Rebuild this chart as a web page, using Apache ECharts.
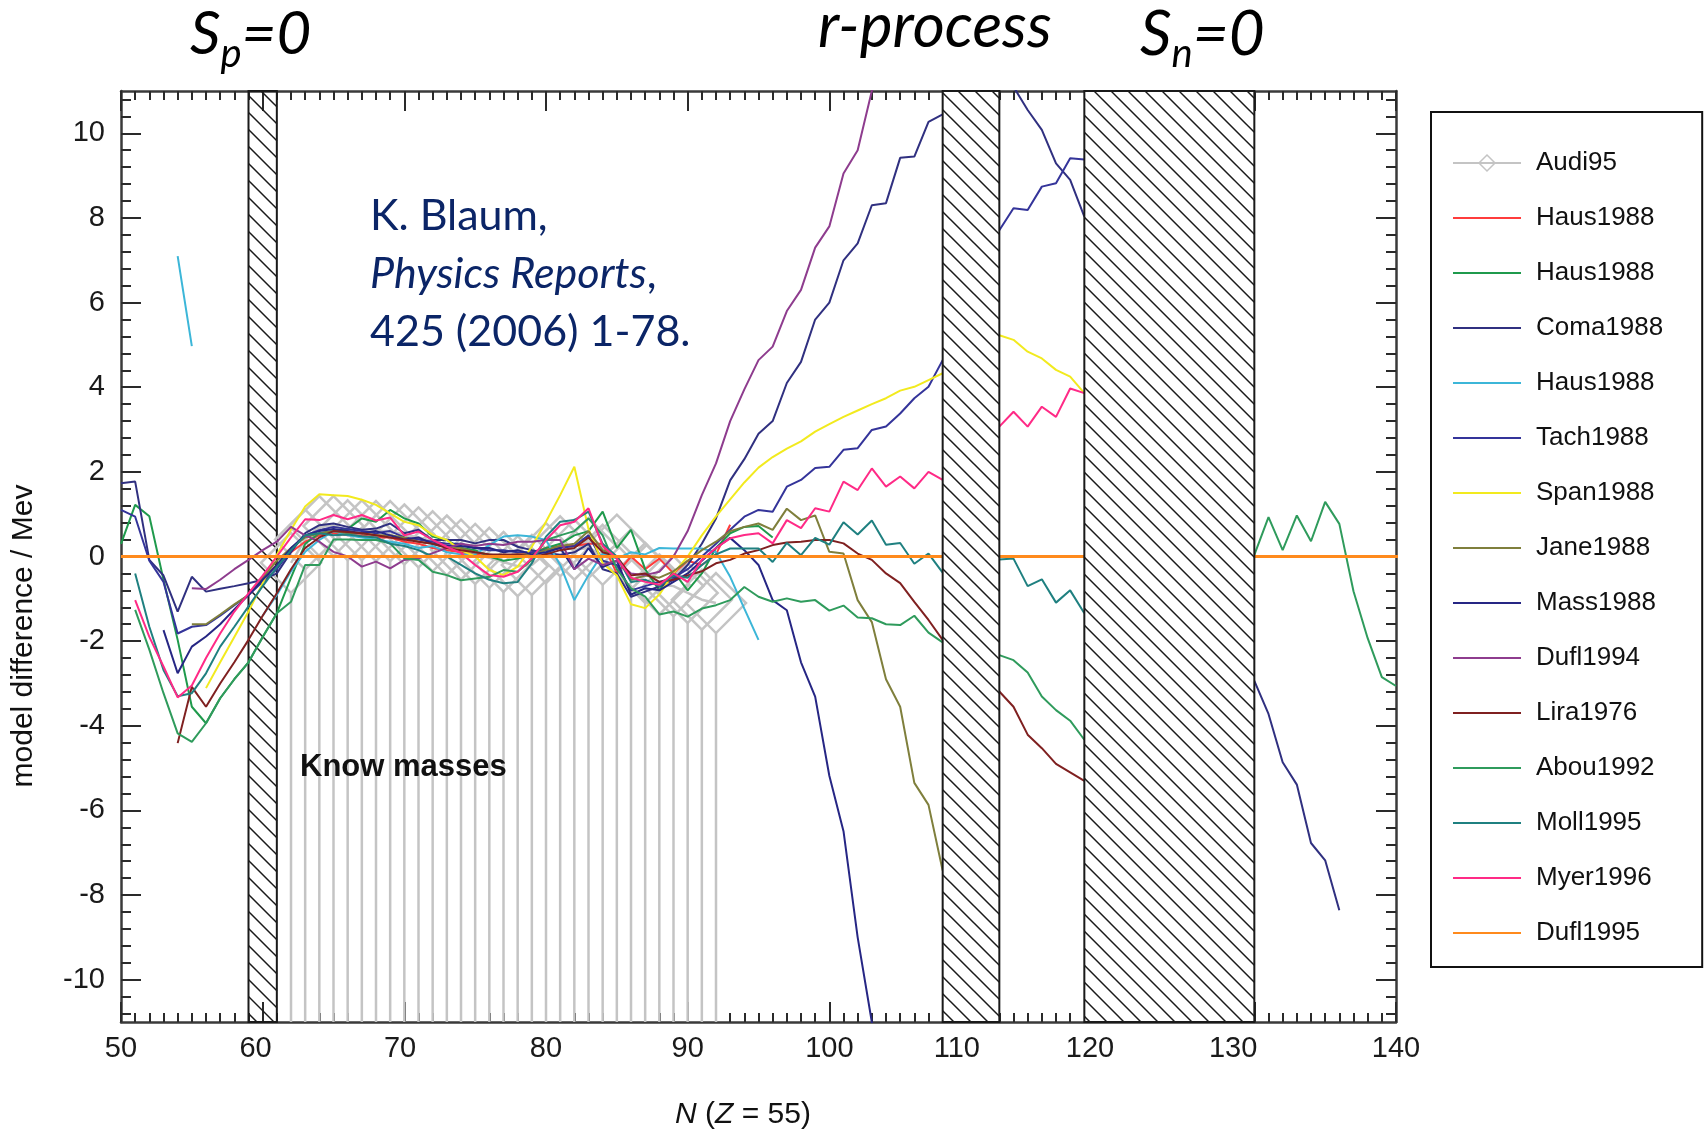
<!DOCTYPE html>
<html><head><meta charset="utf-8">
<script src="https://cdn.jsdelivr.net/npm/echarts@6/dist/echarts.min.js"></script>
<style>html,body{margin:0;padding:0;background:#fff}#c{width:1706px;height:1132px}</style>
</head><body><div id="c"></div>
<script>
// ===== axis ticks / labels =====
const X_MIN = 50, X_MAX = 140, Y_MIN = -11, Y_MAX = 11;
const xLabelAt = [50, 59.5, 69.7, 80, 90, 100, 109, 118.4, 128.5, 140];   // where the reference prints 50..140
const yMajorTicks = [-10, -8, -6, -4, -2, 0, 2, 4, 6, 8, 10];

// ===== shaded (hatched) N ranges =====
const hatchBehind = [[59, 61]];
const hatchFront = [[108, 112], [118, 130]];

// ===== series values: model difference (MeV) per neutron number N, starting at "from" =====
const audi95 = {from: 62, values: [-0.15,0.4,0.72,0.72,0.62,0.62,0.6,0.6,0.52,0.45,0.36,0.26,0.16,0.06,-0.03,-0.13,-0.23,-0.2,0.08,0.24,0.16,0.2,0.04,0.28,-0.07,-0.39,-0.66,-0.7,-0.86,-1.02,-1.1]};
const haus1988Red = {from: 59, values: [-0.9,-0.5,-0.2,0.1,0.35,0.5,0.55,0.5,0.5,0.45,0.45,0.35,0.3,0.2,0.15,0.1,0.05,0.0,0.0,0.05,0.1,0.2,0.25,0.25,0.3,0.3,-0.4,0.0,-0.3,-0.05,-0.4,-0.1,-0.2,0.05,0.75]};
const haus1988Green = {from: 50, values: [0.3,1.22,0.95,-0.55,-1.97,-3.55,-3.94,-3.35,-2.9,-2.5,-1.9,-1.34,-0.5,0.3,0.55,0.6,0.65,0.9,0.82,1.1,0.9,0.78,0.47,0.39,0.2,0.15,0.0,-0.1,-0.05,0.05,0.2,0.3,0.5,0.6,1.06,0.2,0.63,-0.3,-0.8,-0.35,-0.8,-0.4,0.2,0.55,0.7,0.72,0.45]};
const coma1988 = {from: 50, values: [
  1.73,1.77,-0.08,-0.45,-1.3,-0.48,-0.83,-0.76,-0.7,-0.63,
  -0.55,-0.4,0.1,0.55,0.74,0.78,0.7,0.63,0.66,0.78,
  0.55,0.63,0.39,0.39,0.39,0.31,0.39,0.39,0.23,0.15,
  0.08,0.04,0.1,0.3,-0.3,-0.4,-0.95,-0.83,-0.71,-0.55,
  -0.2,0.3,0.9,1.8,2.3,2.9,3.2,4.1,4.6,5.6,
  6.0,7.0,7.4,8.3,8.35,9.42,9.45,10.27,10.45,
  null,null,null,
  12.5,11.1,10.55,10.08,9.29,8.9,8.03,
  null,null,null,null,null,null,null,null,null,null,null,
  -2.94,-3.72,-4.86,-5.39,-6.77,-7.18,-8.36]};
const haus1988Cyan = {from: 54, values: [
  7.1,4.97,null,null,null,null,
  -1.4,-0.91,-0.35,0.11,0.39,0.6,0.5,0.45,0.4,0.35,
  0.3,0.2,0.25,0.1,0.05,0.05,0.27,0.47,0.5,0.47,
  0.39,-0.2,-1.03,-0.44,0.07,-0.05,0.1,0.05,0.2,0.19,
  0.19,0.19,0.1,-0.48,-1.23,-1.97]};
const tach1988 = {from: 50, values: [
  1.1,0.94,-0.1,-0.6,-1.82,-1.66,-1.62,-1.4,-1.15,-0.91,
  -0.6,-0.3,0.15,0.5,0.62,0.7,0.65,0.6,0.55,0.6,
  0.45,0.4,0.35,0.3,0.3,0.2,0.15,0.15,0.1,0.1,
  0.15,0.2,0.25,0.5,-0.1,-0.2,-0.8,-0.7,-0.6,-0.5,
  -0.3,0.0,0.3,0.63,0.94,1.1,1.06,1.65,1.81,2.09,
  2.12,2.52,2.56,2.99,3.07,3.38,3.74,4.01,4.64,
  null,null,null,
  7.71,8.23,8.19,8.74,8.82,9.41,9.38]};
const span1988 = {from: 56, values: [
  -3.11,-2.5,-1.9,-1.3,
  -0.63,0.04,0.63,1.18,1.47,1.45,1.43,1.34,1.22,1.02,
  0.82,0.74,0.51,0.39,0.15,0.0,-0.32,-0.44,-0.24,0.23,
  0.82,1.45,2.12,0.65,-0.16,-0.45,-1.13,-1.22,-0.9,-0.4,
  0.0,0.5,0.95,1.35,1.75,2.1,2.35,2.55,2.72,2.95,
  3.13,3.3,3.45,3.6,3.74,3.92,4.01,4.17,4.33,
  null,null,null,
  5.23,5.12,4.84,4.68,4.41,4.25,3.86]};
const jane1988 = {from: 55, values: [
  -1.6,-1.6,-1.37,-1.13,-0.91,
  -0.5,-0.1,0.2,0.45,0.55,0.6,0.55,0.55,0.5,0.5,
  0.45,0.35,0.3,0.25,0.2,0.1,0.05,0.0,0.05,0.05,
  0.15,0.25,0.3,0.6,0.15,0.0,-0.55,-0.45,-0.5,-0.35,
  -0.1,0.15,0.35,0.6,0.7,0.78,0.63,1.13,0.86,0.97,
  0.11,0.07,-1.03,-1.55,-2.9,-3.55,-5.35,-5.87,-7.42]};
const mass1988 = {from: 53, values: [
  -1.74,-2.76,-2.13,-1.89,-1.6,-1.25,-0.91,
  -0.55,-0.2,0.2,0.5,0.6,0.65,0.6,0.55,0.6,0.5,
  0.4,0.45,0.3,0.25,0.25,0.2,0.2,0.1,0.15,0.05,
  0.1,0.2,-0.3,0.2,-0.25,-0.1,-0.9,-0.75,-0.8,-0.6,
  -0.4,-0.1,0.2,0.44,0.15,-0.2,-1.03,-1.27,-2.5,-3.31,
  -5.18,-6.49,-9.0,-11.0,-12.5]};
const dufl1994 = {from: 55, values: [
  -0.75,-0.77,-0.55,-0.3,-0.08,
  0.15,0.35,0.7,0.5,0.35,0.11,0.0,-0.24,-0.12,-0.28,
  -0.08,-0.04,0.08,0.2,0.3,0.25,0.3,0.27,0.35,0.35,
  0.39,0.39,-0.3,-0.05,-0.2,-0.1,-0.4,-0.44,-0.36,0.0,
  0.6,1.45,2.2,3.2,3.95,4.64,4.96,5.8,6.3,7.3,
  7.8,9.05,9.6,11.0,12.2]};
const lira1976 = {from: 54, values: [
  -4.41,-3.08,-3.55,-3.0,-2.5,-1.97,
  -1.4,-0.87,-0.3,0.2,0.45,0.6,0.58,0.55,0.5,0.45,
  0.4,0.35,0.3,0.2,0.15,0.1,0.05,0.05,0.05,0.0,
  0.05,0.15,0.2,0.45,0.1,0.0,-0.45,-0.4,-0.6,-0.55,
  -0.45,-0.35,-0.16,-0.08,0.07,0.15,0.27,0.33,0.35,0.39,
  0.39,0.31,0.07,-0.08,-0.4,-0.63,-1.07,-1.5,-1.97,
  null,null,null,
  -3.19,-3.55,-4.21,-4.53,-4.9,-5.1,-5.3]};
const abou1992 = {from: 51, values: [
  -1.26,-2.2,-3.23,-4.18,-4.38,-3.94,-3.35,-2.9,-2.5,
  -1.9,-1.34,-1.07,-0.2,-0.2,0.4,0.4,0.39,0.39,0.31,
  -0.04,-0.08,-0.36,-0.44,-0.56,-0.52,-0.48,-0.32,-0.36,-0.08,
  0.39,0.5,0.6,0.9,0.5,-0.3,-0.75,-0.95,-1.37,-1.3,
  -1.42,-1.23,-1.15,-1.03,-0.72,-0.95,-1.07,-0.99,-1.07,-1.03,
  -1.28,-1.16,-1.44,-1.46,-1.6,-1.62,-1.4,-1.8,-2.03,
  null,null,null,
  -2.33,-2.45,-2.74,-3.31,-3.63,-3.88,-4.33,
  null,null,null,null,null,null,null,null,null,null,null,
  0.04,0.93,0.15,0.97,0.36,1.29,0.77,-0.82,-1.93,-2.85,-3.06]};
const moll1995 = {from: 51, values: [
  -0.4,-1.66,-2.68,-3.3,-3.23,-2.76,-2.13,-1.66,-1.18,
  -0.7,-0.25,0.15,0.5,0.55,0.5,0.52,0.48,0.45,0.3,
  0.25,0.15,0.0,0.0,-0.2,-0.4,-0.55,-0.63,-0.6,-0.16,
  0.47,0.82,0.86,1.06,0.3,0.0,-0.6,-0.55,-0.7,-0.45,
  -0.5,-0.2,0.05,0.19,0.19,0.19,-0.13,0.32,0.03,0.44,
  0.28,0.81,0.52,0.85,0.28,0.32,-0.17,0.07,-0.38,
  null,null,null,
  -0.07,-0.05,-0.7,-0.54,-1.09,-0.8,-1.34]};
const myer1996 = {from: 51, values: [
  -1.03,-1.9,-2.6,-3.33,-3.05,-2.4,-1.82,-1.3,-0.87,
  -0.45,0.0,0.45,0.88,0.86,0.98,0.88,0.98,0.85,0.92,
  0.5,0.59,0.39,0.23,0.08,-0.2,-0.44,-0.48,-0.36,-0.04,
  0.39,0.74,0.82,1.14,0.25,-0.05,-0.5,-0.6,-0.67,-0.4,
  -0.6,-0.08,0.2,0.43,0.51,0.55,0.31,0.86,0.67,1.14,
  1.06,1.77,1.57,2.08,1.65,1.89,1.61,2.0,1.81,
  null,null,null,
  3.07,3.42,3.07,3.54,3.3,3.97,3.86]};
const dufl1995 = {from: 50, values: [
  0,0,0,0,0,0,0,0,0,0, 0,0,0,0,0,0,0,0,0,0, 0,0,0,0,0,0,0,0,0,0,
  0,0,0,0,0,0,0,0,0,0, 0,0,0,0,0,0,0,0,0,0, 0,0,0,0,0,0,0,0,0,0,
  0,0,0,0,0,0,0,0,0,0, 0,0,0,0,0,0,0,0,0,0, 0,0,0,0,0,0,0,0,0,0, 0,0]};

// ===== styling (kept apart from data) =====
const lineDefs = [
  {name: 'Haus1988#1', src: haus1988Red,   color: '#ff3c3c'},
  {name: 'Haus1988#2', src: haus1988Green, color: '#1f9a4c'},
  {name: 'Coma1988',   src: coma1988,      color: '#303080'},
  {name: 'Haus1988#3', src: haus1988Cyan,  color: '#3cb6d8'},
  {name: 'Tach1988',   src: tach1988,      color: '#34349a'},
  {name: 'Span1988',   src: span1988,      color: '#f2ea1e'},
  {name: 'Jane1988',   src: jane1988,      color: '#7f7f3c'},
  {name: 'Mass1988',   src: mass1988,      color: '#262684'},
  {name: 'Dufl1994',   src: dufl1994,      color: '#8e3c8e'},
  {name: 'Lira1976',   src: lira1976,      color: '#7f2020'},
  {name: 'Abou1992',   src: abou1992,      color: '#2f9b5c'},
  {name: 'Moll1995',   src: moll1995,      color: '#1f8080'},
  {name: 'Myer1996',   src: myer1996,      color: '#ff2a86'},
  {name: 'Dufl1995',   src: dufl1995,      color: '#ff8a1c', width: 3, noClip: true}
];
const GRAY = '#c4c4c4';
const DIAMOND = [60, 60];
const HATCH_STEP = 17;

function pairs(s) { return s.values.map((v, i) => [s.from + i, v == null ? '-' : v]); }
const yMinorTicks = [];
for (let k = -27; k <= 27; k++) yMinorTicks.push(Math.round(k * 4) / 10);

function hatchRender(fill) {
  return function (params, api) {
    const a = api.coord([api.value(0), Y_MAX]);
    const b = api.coord([api.value(1), Y_MIN]);
    const L = a[0], T = a[1], R = b[0], B = b[1];
    const children = [{type: 'rect', shape: {x: L, y: T, width: R - L, height: B - T}, style: {fill: fill, stroke: null}}];
    const kMin = Math.ceil((L - B) / HATCH_STEP), kMax = Math.floor((R - T) / HATCH_STEP);
    for (let k = kMin; k <= kMax; k++) {
      const c = k * HATCH_STEP;
      const xa = Math.max(L, T + c), xb = Math.min(R, B + c);
      if (xb > xa) children.push({type: 'line', shape: {x1: xa, y1: xa - c, x2: xb, y2: xb - c}, style: {stroke: '#1a1a1a', lineWidth: 1.5}});
    }
    children.push({type: 'rect', shape: {x: L, y: T, width: R - L, height: B - T}, style: {fill: 'none', stroke: '#1a1a1a', lineWidth: 2}});
    return {type: 'group', children: children};
  };
}

const series = [];
series.push({
  type: 'custom', name: 'audiStems', silent: true, z: 1, animation: false,
  data: pairs(audi95), encode: {x: 0, y: 1},
  renderItem: function (params, api) {
    const p = api.coord([api.value(0), api.value(1)]);
    const q = api.coord([api.value(0), Y_MIN]);
    return {type: 'line', shape: {x1: p[0], y1: p[1] + DIAMOND[1] / 2, x2: q[0], y2: q[1]}, style: {stroke: GRAY, lineWidth: 2.5}};
  }
});
series.push({
  type: 'custom', name: 'hatchBehind', silent: true, z: 1, animation: false,
  dimensions: ['x0', 'x1'], data: hatchBehind, encode: {x: ['x0', 'x1']},
  renderItem: hatchRender('none')
});
series.push({
  type: 'line', name: 'Audi95', data: pairs(audi95), z: 1,
  symbol: 'diamond', symbolSize: DIAMOND, showSymbol: true,
  itemStyle: {color: 'rgba(255,255,255,0)', borderColor: GRAY, borderWidth: 2.5},
  lineStyle: {color: GRAY, width: 2.5}, emphasis: {disabled: true}, animation: false
});
lineDefs.forEach(d => series.push({
  type: 'line', name: d.name, data: pairs(d.src), symbol: 'none', showSymbol: false, z: 2,
  clip: !d.noClip, connectNulls: false,
  lineStyle: {color: d.color, width: d.width || 2}, itemStyle: {color: d.color},
  emphasis: {disabled: true}, animation: false
}));
series.push({
  type: 'custom', name: 'hatchFront', silent: true, z: 5, animation: false,
  dimensions: ['x0', 'x1'], data: hatchFront, encode: {x: ['x0', 'x1']},
  renderItem: hatchRender('#ffffff')
});

const axisLineStyle = {color: '#3a3a3a', width: 2.5};
const tickStyle = {color: '#2a2a2a', width: 2};
const tickFont = {fontFamily: 'Liberation Sans', fontSize: 29, color: '#1a1a1a'};

const legendNames = ['Audi95', 'Haus1988#1', 'Haus1988#2', 'Coma1988', 'Haus1988#3', 'Tach1988', 'Span1988',
  'Jane1988', 'Mass1988', 'Dufl1994', 'Lira1976', 'Abou1992', 'Moll1995', 'Myer1996', 'Dufl1995'];

const option = {
  animation: false,
  backgroundColor: '#ffffff',
  textStyle: {fontFamily: 'Liberation Sans'},
  grid: {left: 121, right: 310, top: 91, bottom: 110, containLabel: false, outerBoundsMode: 'none'},
  xAxis: [
    {type: 'value', min: X_MIN, max: X_MAX, interval: 10, position: 'bottom',
     axisLine: {show: true, onZero: false, lineStyle: axisLineStyle},
     axisTick: {show: true, inside: true, length: 20, lineStyle: tickStyle},
     minorTick: {show: true, splitNumber: 10, length: 9, lineStyle: tickStyle},
     axisLabel: Object.assign({show: true, margin: 12, customValues: xLabelAt,
       formatter: v => String(Math.round(v / 10) * 10)}, tickFont),
     splitLine: {show: false}, minorSplitLine: {show: false}},
    {type: 'value', min: X_MIN, max: X_MAX, interval: 10, position: 'top',
     axisLine: {show: true, onZero: false, lineStyle: axisLineStyle},
     axisTick: {show: true, inside: true, length: 20, lineStyle: tickStyle},
     minorTick: {show: true, splitNumber: 10, length: 9, lineStyle: tickStyle},
     axisLabel: {show: false}, splitLine: {show: false}}
  ],
  yAxis: [
    {type: 'value', min: Y_MIN, max: Y_MAX, position: 'left',
     axisLine: {show: true, onZero: false, lineStyle: axisLineStyle},
     axisTick: {show: true, inside: true, length: 20, customValues: yMajorTicks, lineStyle: tickStyle},
     axisLabel: Object.assign({show: true, margin: 16, customValues: yMajorTicks}, tickFont),
     splitLine: {show: false}},
    {type: 'value', min: Y_MIN, max: Y_MAX, position: 'left',
     axisLine: {show: false, onZero: false},
     axisTick: {show: true, inside: true, length: 10, customValues: yMinorTicks, lineStyle: tickStyle},
     axisLabel: {show: false}, splitLine: {show: false}},
    {type: 'value', min: Y_MIN, max: Y_MAX, position: 'right',
     axisLine: {show: true, onZero: false, lineStyle: axisLineStyle},
     axisTick: {show: true, inside: true, length: 20, customValues: yMajorTicks, lineStyle: tickStyle},
     axisLabel: {show: false}, splitLine: {show: false}},
    {type: 'value', min: Y_MIN, max: Y_MAX, position: 'right',
     axisLine: {show: false, onZero: false},
     axisTick: {show: true, inside: true, length: 10, customValues: yMinorTicks, lineStyle: tickStyle},
     axisLabel: {show: false}, splitLine: {show: false}}
  ],
  legend: {
    orient: 'vertical', left: 1431, top: 112,
    padding: [38, 39, 21, 21], itemGap: 29, itemWidth: 68, itemHeight: 20,
    borderColor: '#111', borderWidth: 2, backgroundColor: '#fff',
    selectedMode: false,
    itemStyle: {opacity: 0},
    data: legendNames.map(n => n === 'Audi95' ? {name: n, itemStyle: {opacity: 1, borderWidth: 1.5}} : {name: n}),
    formatter: n => n.split('#')[0],
    textStyle: {fontFamily: 'Liberation Sans', fontSize: 26, lineHeight: 26, color: '#111', padding: [0, 0, 0, 10]}
  },
  graphic: [
    {type: 'text', left: 190, top: -4, z: 10, style: {
      text: '{s|S}{b|p}{s|=0}',
      rich: {
        s: {fontFamily: 'Lato', fontStyle: 'italic', fontSize: 60, lineHeight: 68, fill: '#000'},
        b: {fontFamily: 'Lato', fontStyle: 'italic', fontSize: 40, lineHeight: 40, padding: [38, 0, 0, 0], fill: '#000'}
      }}},
    {type: 'text', left: 818, top: -4, z: 10, style: {
      text: '{s|r-process}',
      rich: {s: {fontFamily: 'Lato', fontStyle: 'italic', fontSize: 62, lineHeight: 68, fill: '#000'}}}},
    {type: 'text', left: 1140, top: -4, z: 10, style: {
      text: '{s|S}{b|n}{s|=0}',
      rich: {
        s: {fontFamily: 'Lato', fontStyle: 'italic', fontSize: 62, lineHeight: 68, fill: '#000'},
        b: {fontFamily: 'Lato', fontStyle: 'italic', fontSize: 40, lineHeight: 40, padding: [38, 0, 0, 0], fill: '#000'}
      }}},
    {type: 'text', left: 370, top: 195, z: 10, style: {
      text: '{n|K. Blaum,}\n{i|Physics Reports}{n|,}\n{n|425 (2006) 1-78.}',
      rich: {
        n: {fontFamily: 'Lato', fontSize: 43, lineHeight: 58, fill: '#0b2567'},
        i: {fontFamily: 'Lato', fontStyle: 'italic', fontSize: 43, lineHeight: 58, fill: '#0b2567'}
      }}},
    {type: 'text', x: 300, y: 767, z: 10, style: {
      text: 'Know masses', font: 'bold 31px "Liberation Sans"', fill: '#111', verticalAlign: 'middle'}},
    {type: 'text', x: 743, y: 1115, z: 10, style: {
      text: '{i|N} ({i|Z} = 55)', align: 'center', verticalAlign: 'middle',
      rich: {
        i: {fontFamily: 'Liberation Sans', fontStyle: 'italic', fontSize: 30, fill: '#111'}
      }, fontFamily: 'Liberation Sans', fontSize: 30, fill: '#111'}},
    {type: 'text', x: 24, y: 636, rotation: Math.PI / 2, z: 10, style: {
      text: 'model difference / Mev', align: 'center', verticalAlign: 'middle',
      font: '30px "Liberation Sans"', fill: '#111'}}
  ],
  series: series
};

const chart = echarts.init(document.getElementById('c'), null, {renderer: 'canvas'});
chart.setOption(option);
</script>
</body></html>
